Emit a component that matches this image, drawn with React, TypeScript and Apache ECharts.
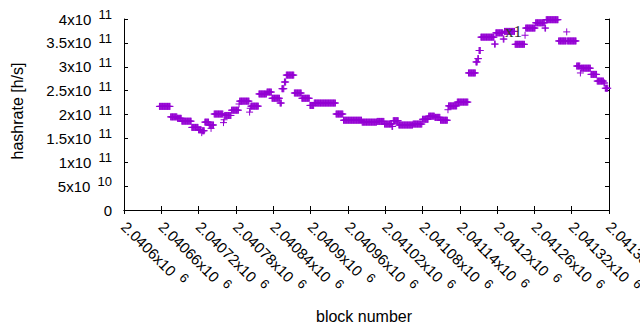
import React, { useEffect, useRef } from "react";
import * as echarts from "echarts";

// axis ranges / ticks
const X_MIN = 2040600;
const X_MAX = 2041380;
const X_STEP = 60;
const Y_MIN = 0;
const Y_MAX = 4e11;
const Y_STEP = 5e10;

// y tick labels: mantissa and exponent (value -> "m x10^e")
const yTickValues = [0, 5e10, 1e11, 1.5e11, 2e11, 2.5e11, 3e11, 3.5e11, 4e11];
const yTickMantissa = ["0", "5", "1", "1.5", "2", "2.5", "3", "3.5", "4"];
const yTickExponent = ["", "10", "11", "11", "11", "11", "11", "11", "11"];

// runs of consecutive blocks sharing one hashrate value
// (block offset from X_MIN, inclusive), value in units of 1e11 h/s
const runStart = [
  57, 75, 86, 93, 109, 120, 125, 126, 130, 137, 140, 141, 145, 160, 161, 162,
  173, 185, 186, 202, 203, 204, 217, 230, 238, 251, 254, 258, 261, 274, 286,
  299, 306, 341, 353, 383, 407, 419, 431, 433, 442, 465, 480, 490, 500, 509,
  521, 522, 536, 554, 566, 569, 571, 574, 596, 598, 610, 612, 629, 645, 646,
  662, 677, 679, 699, 712, 713, 728, 734, 735, 751, 761, 772, 774,
];
const runEnd = [
  74, 85, 92, 108, 119, 124, 125, 129, 136, 139, 140, 144, 159, 160, 161, 172,
  184, 185, 201, 202, 203, 216, 229, 237, 250, 253, 257, 260, 273, 285, 298,
  305, 340, 352, 382, 406, 418, 430, 432, 441, 464, 479, 489, 499, 508, 520,
  521, 535, 553, 565, 568, 570, 573, 595, 597, 609, 611, 628, 644, 645, 661,
  676, 678, 698, 711, 712, 727, 733, 734, 750, 760, 771, 773, 778,
];
const runValue = [
  2.17, 1.95, 1.92, 1.86, 1.73, 1.68, 1.62, 1.66, 1.84, 1.78, 1.71, 1.78, 2.01,
  1.83, 1.89, 1.98, 2.09, 2.22, 2.28, 2.05, 2.13, 2.175, 2.43, 2.47, 2.34, 2.24,
  2.54, 2.68, 2.825, 2.45, 2.34, 2.19, 2.24, 2.01, 1.88, 1.84, 1.855, 1.8, 1.75,
  1.87, 1.78, 1.8, 1.9, 1.965, 1.94, 1.88, 2.1, 2.18, 2.26, 2.87, 3.1, 3.17,
  3.34, 3.62, 3.475, 3.71, 3.58, 3.74, 3.47, 3.66, 3.81, 3.92, 3.81, 3.985, 3.54,
  3.73, 3.54, 3.015, 2.87, 2.97, 2.84, 2.7, 2.66, 2.55,
];

const FONT = "Liberation Sans, Arial, sans-serif";
const PURPLE = "#9400d3";

function buildPoints(): [number, number][] {
  const pts: [number, number][] = [];
  for (let i = 0; i < runStart.length; i++) {
    for (let b = runStart[i]; b <= runEnd[i]; b++) {
      pts.push([X_MIN + b, runValue[i] * 1e11]);
    }
  }
  return pts;
}

export default function App() {
  const ref = useRef<HTMLDivElement>(null);
  useEffect(() => {
    if (!ref.current) return;
    const chart = echarts.init(ref.current, null, { renderer: "svg" });
    const tickCommon = {
      axisLine: { show: true, lineStyle: { color: "#000", width: 1 } },
      axisTick: { show: true, inside: true, length: 4, lineStyle: { color: "#000", width: 1 } },
      splitLine: { show: false },
    };
    const supStyle = {
      fontSize: 13,
      fontFamily: FONT,
      color: "#000",
      padding: [0, 0, 9, 3],
    };
    chart.setOption({
      animation: false,
      grid: {
        left: 124,
        right: 31,
        top: 19,
        bottom: 120,
        containLabel: false,
        outerBoundsMode: "none",
      },
      xAxis: [
        {
          type: "value",
          min: X_MIN,
          max: X_MAX,
          interval: X_STEP,
          position: "bottom",
          ...tickCommon,
          axisLabel: {
            show: true,
            rotate: -45,
            margin: 14,
            fontSize: 15,
            fontFamily: FONT,
            color: "#000",
            showMaxLabel: true,
            showMinLabel: true,
            formatter: (v: number) => `${v / 1e6}x10 {sup|6}`,
            rich: { sup: supStyle },
          },
        },
        {
          type: "value",
          min: X_MIN,
          max: X_MAX,
          interval: X_STEP,
          position: "top",
          ...tickCommon,
          axisLabel: { show: false },
        },
      ],
      yAxis: [
        {
          type: "value",
          min: Y_MIN,
          max: Y_MAX,
          interval: Y_STEP,
          position: "left",
          ...tickCommon,
          axisLabel: {
            show: true,
            margin: 12,
            fontSize: 15,
            fontFamily: FONT,
            color: "#000",
            formatter: (v: number) => {
              const i = yTickValues.findIndex((t) => Math.abs(t - v) < 1);
              if (i < 0) return "";
              if (!yTickExponent[i]) return yTickMantissa[i];
              return `${yTickMantissa[i]}x10 {sup|${yTickExponent[i]}}`;
            },
            rich: { sup: supStyle },
          },
        },
        {
          type: "value",
          min: Y_MIN,
          max: Y_MAX,
          interval: Y_STEP,
          position: "right",
          ...tickCommon,
          axisLabel: { show: false },
        },
      ],
      series: [
        {
          type: "scatter",
          xAxisIndex: 0,
          yAxisIndex: 0,
          data: buildPoints(),
          symbol: "path://M0,3.5L7,3.5M3.5,0L3.5,7",
          symbolSize: 7,
          clip: false,
          itemStyle: { color: "rgba(0,0,0,0)", borderColor: PURPLE, borderWidth: 1, opacity: 1 },
          emphasis: { disabled: true },
          z: 2,
        },
      ],
      graphic: [
        {
          type: "text",
          rotation: Math.PI / 2,
          x: 17,
          y: 111,
          style: {
            text: "hashrate [h/s]",
            fontSize: 16,
            fontFamily: FONT,
            fill: "#000",
            align: "center",
            verticalAlign: "middle",
          },
        },
        {
          type: "text",
          x: 364,
          y: 316,
          style: {
            text: "block number",
            fontSize: 16,
            fontFamily: FONT,
            fill: "#000",
            align: "center",
            verticalAlign: "middle",
          },
        },
        {
          type: "text",
          x: 505,
          y: 31,
          z: 10,
          style: {
            text: "x1",
            fontSize: 17,
            fontFamily: "Liberation Serif, serif",
            fill: "#333",
            align: "left",
            verticalAlign: "middle",
          },
        },
      ],
    });
    return () => chart.dispose();
  }, []);
  return (
    <div
      ref={ref}
      style={{ position: "fixed", left: 0, top: 0, width: 640, height: 330, background: "#fff" }}
    />
  );
}
